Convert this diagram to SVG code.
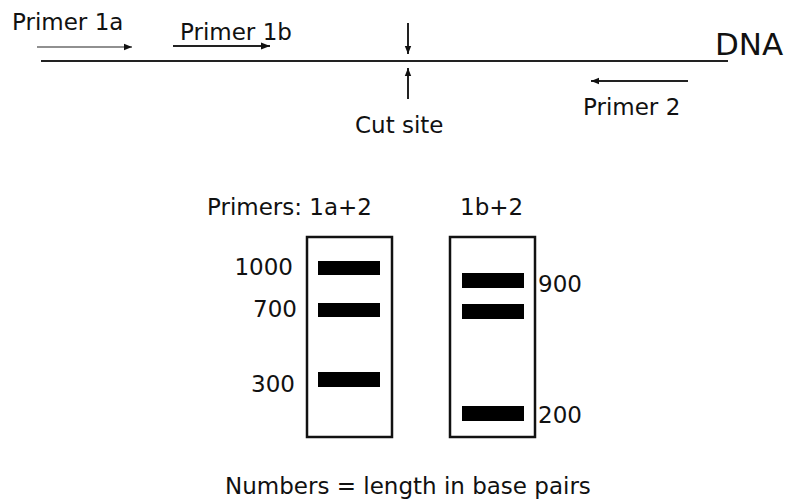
<svg xmlns="http://www.w3.org/2000/svg" width="790" height="499" viewBox="0 0 790 499">
<defs>
<style>
text{font-family:"DejaVu Sans",Verdana,sans-serif;font-size:23px;fill:#111}
.ln{stroke:#222;fill:none}
.gel{fill:#fff;stroke:#111;stroke-width:2.5}
.band{fill:#000}
</style>
<marker id="ah" viewBox="0 0 10 10" refX="10" refY="5" markerWidth="9" markerHeight="8" markerUnits="userSpaceOnUse" orient="auto"><path d="M0,1 L10,5 L0,9 Z" fill="#111"/></marker>
<marker id="ah2" viewBox="0 0 10 10" refX="10" refY="5" markerWidth="9" markerHeight="9" markerUnits="userSpaceOnUse" orient="auto"><path d="M0,1 L10,5 L0,9 Z" fill="#111"/></marker>
</defs>
<rect width="790" height="499" fill="#fff"/>
<g id="dna">
<line class="ln" x1="41" y1="61" x2="728" y2="61" stroke-width="2"/>
<text x="715" y="55" style="font-size:31px">DNA</text>
</g>
<g id="connectors">
<line class="ln" x1="37" y1="47" x2="132" y2="47" stroke-width="1.2" marker-end="url(#ah)"/>
<line class="ln" x1="173" y1="46" x2="270" y2="46" stroke-width="2" marker-end="url(#ah2)"/>
<line class="ln" x1="408" y1="23" x2="408" y2="54" stroke-width="2" marker-end="url(#ah)"/>
<line class="ln" x1="408" y1="99" x2="408" y2="68" stroke-width="2" marker-end="url(#ah)"/>
<line class="ln" x1="688" y1="81" x2="591" y2="81" stroke-width="2" marker-end="url(#ah)"/>
</g>
<g id="primer1a"><text x="12" y="30">Primer 1a</text></g>
<g id="primer1b"><text x="180" y="40">Primer 1b</text></g>
<g id="cutsite"><text x="355" y="133">Cut site</text></g>
<g id="primer2"><text x="583" y="115">Primer 2</text></g>
<g id="lane1">
<text x="207" y="215">Primers: 1a+2</text>
<rect class="gel" x="307" y="237" width="85" height="200"/>
<rect class="band" x="318" y="261" width="62" height="14"/>
<rect class="band" x="318" y="303" width="62" height="14"/>
<rect class="band" x="318" y="372" width="62" height="15"/>
<text x="293" y="275" text-anchor="end">1000</text>
<text x="297" y="317" text-anchor="end">700</text>
<text x="295" y="392" text-anchor="end">300</text>
</g>
<g id="lane2">
<text x="460" y="215">1b+2</text>
<rect class="gel" x="450" y="237" width="85" height="200"/>
<rect class="band" x="462" y="273" width="62" height="15"/>
<rect class="band" x="462" y="304" width="62" height="15"/>
<rect class="band" x="462" y="406" width="62" height="15"/>
<text x="538" y="292">900</text>
<text x="538" y="423">200</text>
</g>
<g id="caption"><text x="225" y="494">Numbers = length in base pairs</text></g>
</svg>
